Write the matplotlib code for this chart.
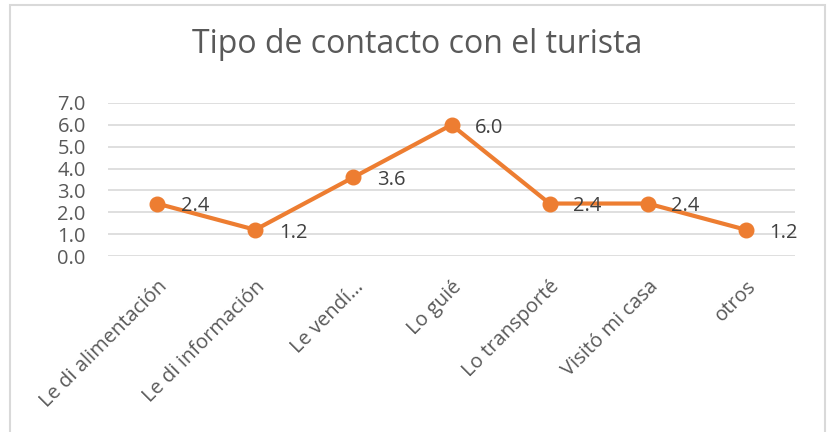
import matplotlib
matplotlib.use("Agg")
import matplotlib.pyplot as plt
from matplotlib.patches import Rectangle

categories = ["Le di alimentación", "Le di información", "Le vendí…", "Lo guié",
              "Lo transporté", "Visitó mi casa", "otros"]
values = [2.4, 1.2, 3.6, 6.0, 2.4, 2.4, 1.2]
yticks = [0, 1, 2, 3, 4, 5, 6, 7]
title = "Tipo de contacto con el turista"

FONT = ["Open Sans", "DejaVu Sans"]
plt.rcParams["font.family"] = FONT

W, H = 832, 432
fig = plt.figure(figsize=(W / 100, H / 100), dpi=100)
fig.patch.set_facecolor("white")

# outer chart border
fig.add_artist(Rectangle((10 / W, -0.02), 815 / W, 1.02 - 5 / H, transform=fig.transFigure,
                         fill=False, edgecolor="#D9D9D9", linewidth=1.5))

ax = fig.add_axes([108 / W, 1 - 256 / H, (795 - 108) / W, (256 - 103) / H])
x = list(range(len(categories)))
ax.plot(x, values, color="#ED7D31", linewidth=3, marker="o", markersize=10.5,
        solid_joinstyle="round", zorder=3)
for xi, v in zip(x, values):
    ax.annotate(f"{v:.1f}", (xi, v), xytext=(17, -2), textcoords="offset points",
                ha="left", va="center", fontsize=14.5, color="#404040", zorder=4)

ax.set_xlim(-0.5, len(categories) - 0.5)
ax.set_ylim(0, 7)
ax.set_yticks(yticks)
ax.set_yticklabels([f"{t:.1f}" for t in yticks])
ax.set_xticks(x)
ax.set_xticklabels(categories, rotation=45, ha="right", va="top", rotation_mode="anchor")
ax.tick_params(axis="both", length=0, labelsize=14.5, labelcolor="#595959")
ax.tick_params(axis="y", pad=16)
ax.tick_params(axis="x", pad=15)
ax.grid(axis="y", color="#D9D9D9", linewidth=1.2)
ax.set_axisbelow(True)
for s in ax.spines.values():
    s.set_visible(False)

fig.text(417 / W, 1 - 53 / H, title, ha="center", va="baseline", fontsize=23, color="#595959")

fig.savefig("out.png", dpi=100, facecolor="white")
